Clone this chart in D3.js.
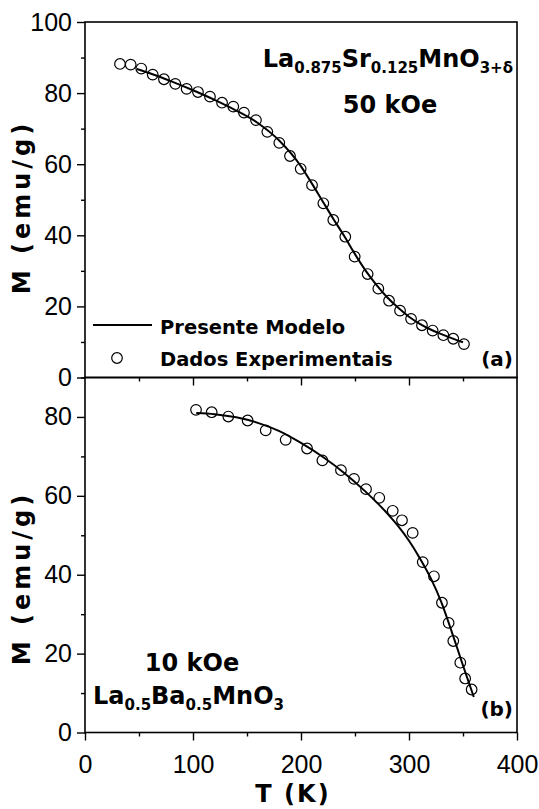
<!DOCTYPE html>
<html><head><meta charset="utf-8">
<script src="https://cdn.jsdelivr.net/npm/d3@7"></script>
<style>
html,body{margin:0;padding:0;background:#fff;}
svg{display:block;}
</style></head>
<body>
<div id="chart"></div>
<script>
// ---- data ----
const xTicks = [0, 100, 200, 300, 400];
const xMinor = [50, 150, 250, 350];
const topYTicks = [0, 20, 40, 60, 80, 100];
const topYMinor = [10, 30, 50, 70, 90];
const botYTicks = [0, 20, 40, 60, 80];
const botYMinor = [10, 30, 50, 70, 90];

const topDataT = [32.4, 42.3, 52.1, 62.7, 73.1, 83.6, 94.1, 104.6, 115.7, 126.9, 137.3, 147.2, 158.3, 168.8, 179.9, 189.8, 199.7, 210.2, 220.7, 229.9, 241.0, 249.7, 261.7, 271.6, 281.5, 291.7, 301.9, 312.0, 321.9, 331.8, 341.0, 350.9];
const topDataM = [88.2, 88.0, 86.9, 85.2, 83.9, 82.6, 81.2, 80.3, 79.0, 77.3, 76.2, 74.5, 72.4, 69.1, 66.0, 62.3, 58.7, 54.1, 49.0, 44.3, 39.6, 34.0, 29.1, 25.0, 21.6, 18.8, 16.5, 14.7, 13.2, 11.9, 10.9, 9.4];
const topModelT = [48, 60, 80, 100, 120, 140, 160, 180, 200, 210, 220, 230, 240, 250, 260, 270, 280, 290, 300, 310, 320, 330, 340, 350];
const topModelM = [86.8, 85.6, 83.3, 80.8, 78.1, 75.1, 71.6, 66.6, 59.4, 54.6, 49.6, 44.6, 39.8, 34.7, 30.0, 26.0, 22.5, 19.6, 17.1, 15.1, 13.5, 12.2, 11.0, 9.9];

const botDataT = [102.8, 117.3, 132.7, 150.6, 167.3, 185.8, 205.6, 219.8, 237.0, 249.1, 260.2, 272.5, 284.9, 293.5, 303.4, 312.7, 323.1, 330.5, 336.7, 341.0, 347.5, 352.0, 358.0];
const botDataM = [81.8, 81.2, 80.1, 79.1, 76.6, 74.2, 72.0, 69.0, 66.5, 64.3, 61.7, 59.5, 56.2, 53.8, 50.6, 43.2, 39.6, 32.9, 27.8, 23.2, 17.7, 13.7, 10.9];
const botModelT = [103, 120, 140, 160, 180, 200, 220, 240, 260, 280, 290, 300, 310, 320, 330, 340, 350, 360];
const botModelM = [81.0, 80.7, 79.9, 78.5, 76.4, 73.4, 69.9, 65.8, 61.0, 55.5, 52.3, 48.6, 44.2, 39.2, 33.0, 25.2, 17.0, 9.0];

// ---- layout ----
const W = 539, H = 809;
const L = 85, R = 517, T0 = 22, MID = 377.5, B = 732.5;
const tickFont = "'Liberation Sans',Arial,sans-serif";
const boldFont = "'DejaVu Sans','Verdana',sans-serif";

const svg = d3.select("#chart").append("svg").attr("width", W).attr("height", H);

const x = d3.scaleLinear().domain([0, 400]).range([L, R]);
const yTop = d3.scaleLinear().domain([0, 100]).range([MID, T0]);
const yBot = d3.scaleLinear().domain([0, 90]).range([B, MID]);

function styleAxis(g) {
  g.select(".domain").remove();
  g.selectAll("line").attr("stroke", "#000").attr("stroke-width", 1.4);
  g.selectAll("text").attr("fill", "#000").style("font-family", tickFont).style("font-size", "25px");
}

// top panel axes
svg.append("g").attr("transform", `translate(${L},0)`)
  .call(d3.axisLeft(yTop).tickValues(topYTicks).tickSize(8).tickPadding(5).tickFormat(d3.format("d")))
  .call(g => styleAxis(g));
svg.append("g").attr("transform", `translate(${L},0)`)
  .call(d3.axisLeft(yTop).tickValues(topYMinor).tickSize(4).tickFormat(""))
  .call(g => styleAxis(g));
svg.append("g").attr("transform", `translate(0,${MID})`)
  .call(d3.axisBottom(x).tickValues(xTicks.slice(1, 4)).tickSize(8).tickFormat(""))
  .call(g => styleAxis(g));
svg.append("g").attr("transform", `translate(0,${MID})`)
  .call(d3.axisBottom(x).tickValues(xMinor).tickSize(4).tickFormat(""))
  .call(g => styleAxis(g));

// bottom panel axes
svg.append("g").attr("transform", `translate(${L},0)`)
  .call(d3.axisLeft(yBot).tickValues(botYTicks).tickSize(8).tickPadding(5).tickFormat(d3.format("d")))
  .call(g => styleAxis(g));
svg.append("g").attr("transform", `translate(${L},0)`)
  .call(d3.axisLeft(yBot).tickValues(botYMinor).tickSize(4).tickFormat(""))
  .call(g => styleAxis(g));
svg.append("g").attr("transform", `translate(0,${B})`)
  .call(d3.axisBottom(x).tickValues(xTicks).tickSize(8).tickPadding(15).tickFormat(d3.format("d")))
  .call(g => styleAxis(g));
svg.append("g").attr("transform", `translate(0,${B})`)
  .call(d3.axisBottom(x).tickValues(xMinor).tickSize(4).tickFormat(""))
  .call(g => styleAxis(g));

// frames
svg.append("rect").attr("x", L).attr("y", T0).attr("width", R - L).attr("height", MID - T0)
  .attr("fill", "none").attr("stroke", "#000").attr("stroke-width", 1.6);
svg.append("rect").attr("x", L).attr("y", MID).attr("width", R - L).attr("height", B - MID)
  .attr("fill", "none").attr("stroke", "#000").attr("stroke-width", 1.6);

// model lines
const lineTop = d3.line().x((d, i) => x(topModelT[i])).y((d, i) => yTop(topModelM[i])).curve(d3.curveMonotoneX);
const lineBot = d3.line().x((d, i) => x(botModelT[i])).y((d, i) => yBot(botModelM[i])).curve(d3.curveMonotoneX);
svg.append("path").attr("d", lineTop(topModelT)).attr("fill", "none").attr("stroke", "#000").attr("stroke-width", 2);
svg.append("path").attr("d", lineBot(botModelT)).attr("fill", "none").attr("stroke", "#000").attr("stroke-width", 2);

// data circles
svg.append("g").selectAll("circle").data(topDataT).join("circle")
  .attr("cx", (d) => x(d)).attr("cy", (d, i) => yTop(topDataM[i])).attr("r", 5.3)
  .attr("fill", "none").attr("stroke", "#000").attr("stroke-width", 1.2);
svg.append("g").selectAll("circle").data(botDataT).join("circle")
  .attr("cx", (d) => x(d)).attr("cy", (d, i) => yBot(botDataM[i])).attr("r", 5.3)
  .attr("fill", "none").attr("stroke", "#000").attr("stroke-width", 1.2);

// legend
svg.append("line").attr("x1", 93).attr("x2", 152).attr("y1", 325).attr("y2", 325)
  .attr("stroke", "#000").attr("stroke-width", 2);
svg.append("circle").attr("cx", 117).attr("cy", 358).attr("r", 5.3)
  .attr("fill", "none").attr("stroke", "#000").attr("stroke-width", 1.2);
const bt = (xx, yy, txt, size, anchor) => svg.append("text").attr("x", xx).attr("y", yy)
  .attr("text-anchor", anchor || "start").style("font-family", boldFont).style("font-weight", "bold")
  .style("font-size", size + "px").attr("fill", "#000").text(txt);
bt(160, 334, "Presente Modelo", 19.5);
bt(160, 366, "Dados Experimentais", 19.5);
bt(513, 366, "(a)", 20, "end");
bt(513, 716, "(b)", 20, "end");

// formulas
function formula(xx, yy, parts, anchor) {
  const t = svg.append("text").attr("x", xx).attr("y", yy).attr("text-anchor", anchor)
    .style("font-family", boldFont).style("font-weight", "bold").attr("fill", "#000");
  let cur = 0;
  parts.forEach(p => {
    const target = p.sub ? 6 : 0;
    t.append("tspan").attr("dy", target - cur).style("font-size", (p.sub ? 15 : 24) + "px").text(p.t);
    cur = target;
  });
}
formula(513, 67, [{t: "La"}, {t: "0.875", sub: 1}, {t: "Sr"}, {t: "0.125", sub: 1}, {t: "MnO"}, {t: "3+δ", sub: 1}], "end");
bt(390, 113, "50 kOe", 24, "middle");
bt(192, 671, "10 kOe", 24, "middle");
formula(93, 704, [{t: "La"}, {t: "0.5", sub: 1}, {t: "Ba"}, {t: "0.5", sub: 1}, {t: "MnO"}, {t: "3", sub: 1}], "start");

// axis titles
const yt = (cy) => svg.append("text").attr("transform", `translate(30,${cy}) rotate(-90)`)
  .attr("text-anchor", "middle").style("font-family", boldFont).style("font-weight", "bold")
  .style("font-size", "24px").style("letter-spacing", "4px").attr("fill", "#000").text("M (emu/g)");
yt(207);
yt(578);
svg.append("text").attr("x", 293).attr("y", 802).attr("text-anchor", "middle")
  .style("font-family", boldFont).style("font-weight", "bold").style("font-size", "24px")
  .style("letter-spacing", "2px").attr("fill", "#000").text("T (K)");
</script>
</body></html>
